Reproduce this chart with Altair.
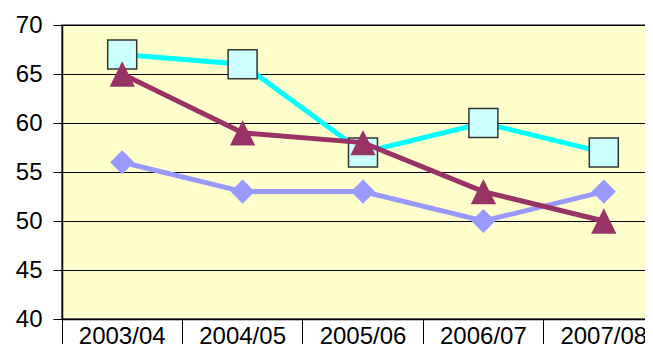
import altair as alt
import pandas as pd

years = ["2003/04", "2004/05", "2005/06", "2006/07", "2007/08"]
cyan_vals = [67, 66, 57, 60, 57]
maroon_vals = [65, 59, 58, 53, 50]
lavender_vals = [56, 53, 53, 50, 53]

df_c = pd.DataFrame({"year": years, "value": cyan_vals})
df_m = pd.DataFrame({"year": years, "value": maroon_vals})
df_l = pd.DataFrame({"year": years, "value": lavender_vals})

x = alt.X("year:N", sort=years, title=None, bandPosition=0.5,
          scale=alt.Scale(type="band", range=[0, 602], paddingInner=0, paddingOuter=0),
          axis=alt.Axis(labelAngle=0, labelFontSize=24, labelColor="black",
                        labelFont="Liberation Sans", bandPosition=0,
                        tickSize=40, tickColor="black", tickWidth=1,
                        domainColor="black", domainWidth=1.5,
                        labelBaseline="alphabetic", labelPadding=-16))
y = alt.Y("value:Q", title=None,
          scale=alt.Scale(domain=[40, 70], nice=False, zero=False),
          axis=alt.Axis(values=[40, 45, 50, 55, 60, 65, 70], labelFontSize=24,
                        labelColor="black", labelFont="Liberation Sans",
                        tickSize=9, tickColor="black", labelPadding=11,
                        domainColor="black", domainWidth=1.5,
                        grid=True, gridColor="black", gridWidth=1))

def series(df, color, shape, size, fill, stroke, sw):
    line = alt.Chart(df).mark_line(color=color, strokeWidth=5).encode(x=x, y=y)
    pts = alt.Chart(df).mark_point(shape=shape, size=size, filled=True, fill=fill,
                                   stroke=stroke, strokeWidth=sw, opacity=1).encode(x=x, y=y)
    return line, pts

lc, pc = series(df_c, "#00FFFF", "square", 840, "#CCFFFF", "#333333", 1.5)
lm, pm = series(df_m, "#993366", "M0,-1L1,1L-1,1Z", 640, "#993366", "#993366", 0)
ll, pl = series(df_l, "#9999FF", "diamond", 580, "#9999FF", "#9999FF", 0)

chart = alt.layer(ll, pl, lc, pc, lm, pm).properties(
    width=591, height=294,
    autosize=alt.AutoSizeParams(type="none"),
    padding={"left": 54, "top": 17, "right": -8, "bottom": 25},
).configure_view(fill="#FFFFCC", stroke="#808080", strokeWidth=2)

chart.save("out.html", embed_options={"renderer": "svg", "actions": False})
